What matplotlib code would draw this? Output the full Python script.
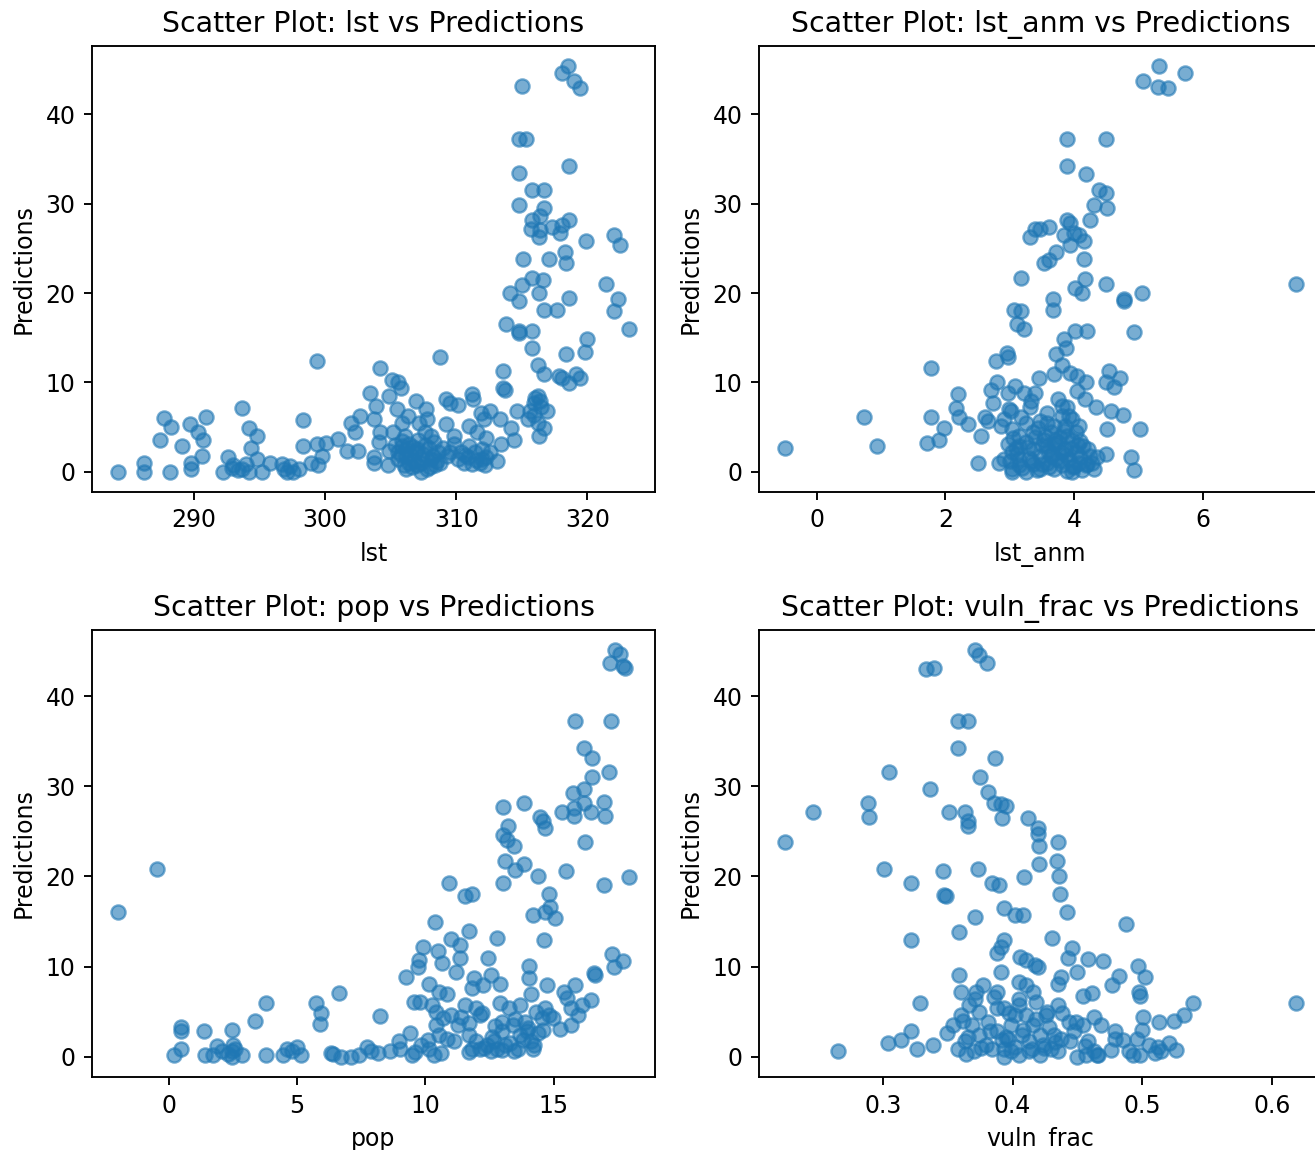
import matplotlib
matplotlib.use("Agg")
import matplotlib.pyplot as plt

# lst vs predictions
lst_x = [284.2, 286.2, 286.2, 288.2, 287.7, 288.3, 287.4, 289.1, 289.7, 290.3, 290.7, 290.9, 290.6, 289.8, 289.8,
         292.2, 292.6, 293.0, 293.7, 294.2, 294.8, 294.4, 294.8, 293.7, 294.2, 295.2, 295.8, 296.7, 297.1, 297.6,
         298.0, 298.3, 298.3, 298.9, 299.5, 299.8, 299.4, 300.1, 299.4, 301.0, 301.7, 302.5, 302.0, 302.7, 302.3,
         303.4, 303.9, 304.2, 303.7, 304.2, 304.1, 303.7, 303.7, 304.8, 304.9, 305.1, 305.6, 305.8, 305.5, 305.2,
         304.9, 305.9, 306.3, 305.9, 306.2, 306.4, 306.9, 307.2, 307.7, 307.8, 307.6, 308.1, 308.3, 307.0, 307.4,
         307.3, 307.8, 308.4, 308.8, 308.8, 309.2, 309.5, 310.1, 309.2, 309.8, 309.8, 309.5, 310.1, 310.6, 311.0,
         311.2, 311.3, 311.9, 311.0, 311.6, 312.1, 312.6, 312.3, 312.0, 311.2, 312.0, 313.1, 313.3, 313.4, 313.6,
         313.6, 313.7, 313.8, 314.1, 314.2, 314.4, 314.6, 314.8, 314.8, 314.8, 314.8, 314.8, 315.0, 314.8, 315.3,
         315.1, 315.0, 315.8, 316.7, 316.7, 315.8, 316.4, 315.7, 316.4, 316.3, 317.3, 315.8, 316.6, 316.3, 317.1,
         316.7, 317.7, 315.8, 315.8, 316.2, 316.7, 316.2, 315.9, 316.4, 316.9, 315.6, 315.5, 316.2, 316.7, 316.3,
         318.5, 318.1, 319.0, 319.4, 318.6, 318.6, 318.1, 317.9, 318.3, 318.4, 318.6, 319.9, 322.0, 322.5, 321.4,
         322.3, 322.0, 323.2, 318.4, 320.0, 319.8, 317.8, 318.6, 319.1, 319.4, 318.1,
         305.6, 306.2, 306.4, 305.6, 306.8, 306.2, 307.0, 308.1, 308.6, 310.4, 310.9, 311.4, 312.6, 312.3, 311.8,
         305.3, 305.8, 306.0, 306.5, 306.7, 307.1, 307.5, 307.9, 308.2, 308.5, 306.1, 306.6, 307.3, 305.9, 306.9,
         307.6, 308.0, 309.0, 309.3, 310.7, 311.5, 312.2, 292.9, 293.4, 296.9, 297.3, 294.0, 316.0, 316.5, 315.9]
lst_y = [0.0, 1.0, 0.0, 0.0, 6.0, 5.0, 3.5, 2.9, 5.3, 4.4, 3.5, 6.1, 1.8, 1.0, 0.3,
         0.0, 1.6, 0.7, 7.1, 4.9, 4.0, 2.7, 1.4, 0.3, 0.0, 0.0, 1.0, 0.9, 0.0, 0.0,
         0.3, 5.8, 2.9, 1.0, 0.7, 1.8, 3.1, 3.2, 12.4, 3.7, 2.3, 2.3, 5.5, 6.2, 4.4,
         8.8, 7.4, 11.6, 5.9, 4.4, 3.3, 1.6, 1.0, 0.7, 8.5, 10.3, 10.0, 9.4, 7.0, 4.4,
         2.3, 5.5, 6.2, 2.9, 1.8, 1.0, 7.9, 5.5, 7.0, 5.9, 4.4, 4.0, 3.3, 2.5, 1.4,
         0.0, 0.3, 0.7, 1.0, 12.8, 8.1, 7.7, 7.5, 5.3, 4.0, 3.1, 2.2, 1.4, 1.0, 2.9,
         8.7, 8.1, 6.6, 5.1, 4.4, 5.9, 6.8, 3.8, 2.5, 0.9, 1.4, 1.2, 5.9, 3.1, 11.3,
         9.4, 9.2, 16.5, 20.0, 4.9, 3.6, 6.8, 19.1, 15.7, 15.5, 29.9, 33.4, 43.2, 37.3, 37.3,
         23.8, 20.9, 31.5, 31.6, 29.5, 28.2, 28.6, 27.2, 27.1, 26.3, 27.4, 21.7, 21.5, 20.0, 23.8,
         18.1, 18.1, 15.7, 13.8, 12.0, 10.9, 8.5, 7.7, 7.9, 6.8, 6.8, 5.9, 5.5, 4.9, 4.0,
         45.4, 44.7, 43.7, 43.0, 34.2, 28.2, 27.6, 26.7, 24.6, 23.4, 19.4, 25.8, 26.5, 25.4, 21.0,
         19.3, 18.0, 16.0, 13.2, 14.9, 13.4, 10.7, 9.9, 10.9, 10.5, 10.5,
         2.2, 2.5, 3.1, 1.4, 1.2, 0.3, 0.7, 1.4, 2.2, 2.2, 1.6, 2.2, 2.2, 1.6, 1.0,
         3.0, 1.9, 0.8, 2.0, 2.8, 3.6, 2.0, 2.6, 1.8, 1.2, 4.0, 0.5, 1.0, 3.4, 2.2,
         3.0, 0.5, 2.6, 1.8, 1.9, 1.3, 0.8, 0.4, 0.2, 0.3, 0.6, 0.9, 8.2, 7.2, 6.3]

# lst_anm vs predictions
anm_x = [-0.5, 0.73, 0.94, 1.77, 1.77, 1.71, 1.9, 1.98, 2.19, 2.17, 2.21, 2.35, 2.51, 2.56, 2.61,
         2.67, 2.74, 2.71, 2.81, 2.79, 2.96, 2.98, 2.86, 2.83, 3.03, 3.08, 3.17, 3.07, 3.18, 3.11,
         3.23, 3.32, 3.39, 3.47, 3.61, 3.53, 3.61, 3.72, 3.68, 3.68, 3.89, 4.5, 3.9, 4.19, 4.39,
         4.5, 4.31, 4.51, 3.9, 3.94, 4.25, 3.85, 4.0, 4.08, 3.94, 4.15, 4.15, 4.17, 4.02, 4.13,
         4.5, 4.78, 4.78, 5.06, 4.94, 5.32, 5.72, 5.07, 5.31, 5.46, 7.46, 4.02, 4.21, 3.85, 3.87,
         3.72, 3.81, 3.69, 3.94, 4.05, 4.19, 4.05, 4.17, 4.35, 4.54, 4.71, 4.5, 4.63, 4.57, 4.76,
         4.52, 5.02, 4.89, 4.94, 4.5, 4.36, 3.46, 3.39, 3.33, 3.31, 3.22, 2.97, 2.99, 2.98, 3.75,
         3.81, 3.89, 3.97, 4.08, 3.47, 3.58,
         2.92, 3.03, 3.14, 3.25, 3.36, 3.47, 3.58, 3.69, 3.81, 3.92, 4.03, 4.14, 4.25, 4.31, 4.19,
         3.97, 3.25, 3.14, 2.92, 3.03, 3.36, 3.53, 3.64, 3.75, 3.86, 3.97, 4.03, 3.25, 3.69, 3.86,
         3.47, 3.36, 3.64, 3.81, 4.08, 3.03, 3.14, 3.58, 3.92, 3.81,
         3.0, 3.1, 3.2, 3.3, 3.4, 3.5, 3.6, 3.7, 3.8, 3.9, 4.0, 4.1, 4.2, 3.05, 3.15,
         3.28, 3.42, 3.55, 3.66, 3.78, 3.88, 3.98, 4.12, 4.22, 3.35, 3.5, 3.62, 3.72, 3.95, 4.1,
         3.02, 3.18, 3.44, 3.58, 3.84, 4.06, 4.28, 3.12, 3.7, 3.9]
anm_y = [2.7, 6.1, 2.9, 11.6, 6.1, 3.2, 3.5, 4.9, 8.7, 7.1, 6.1, 5.3, 1.0, 4.0, 6.1,
         5.7, 7.7, 9.2, 10.1, 12.4, 13.3, 12.8, 5.1, 1.0, 0.0, 9.6, 21.7, 18.1, 18.0, 16.5,
         16.0, 26.3, 27.2, 27.2, 27.4, 23.4, 23.7, 24.6, 19.3, 18.1, 37.3, 37.3, 34.2, 33.3, 31.5,
         31.2, 29.9, 29.5, 28.2, 27.8, 28.2, 26.5, 26.7, 26.5, 25.4, 25.8, 23.8, 21.6, 20.6, 20.0,
         21.0, 19.3, 19.1, 20.0, 15.6, 45.4, 44.7, 43.7, 43.1, 43.0, 21.0, 15.7, 15.8, 14.9, 13.8,
         13.2, 12.0, 10.9, 11.1, 10.7, 10.0, 9.0, 8.1, 7.2, 11.3, 10.5, 10.1, 9.5, 6.8, 6.3,
         4.8, 4.8, 1.6, 0.2, 2.0, 1.6, 10.5, 8.8, 7.9, 7.2, 8.8, 8.8, 7.0, 3.1, 8.1,
         7.4, 7.2, 5.9, 5.1, 5.7, 6.6,
         5.9, 4.8, 4.0, 3.3, 2.5, 1.8, 1.0, 0.3, 0.7, 1.4, 2.2, 2.9, 1.8, 0.3, 0.7,
         0.0, 0.0, 0.7, 1.4, 2.2, 4.4, 3.6, 4.4, 3.3, 2.5, 3.6, 4.4, 5.5, 5.1, 5.1,
         0.3, 0.9, 1.8, 2.2, 1.0, 0.3, 2.9, 2.9, 6.2, 6.2,
         1.2, 2.6, 0.4, 1.5, 3.9, 0.9, 2.3, 3.1, 1.2, 0.1, 0.6, 1.7, 0.9, 3.8, 1.4,
         2.8, 0.2, 4.0, 2.0, 3.9, 1.9, 0.5, 0.2, 2.5, 1.2, 3.0, 0.5, 1.4, 2.7, 3.4,
         6.8, 6.1, 4.9, 5.5, 4.6, 3.0, 1.0, 2.0, 3.6, 4.0]

# pop vs predictions
pop_x = [-1.99, -0.47, 0.2, 0.48, 0.48, 0.46, 1.38, 1.42, 1.74, 1.88, 2.09, 2.45, 2.52, 2.48, 2.48,
         2.87, 3.37, 3.78, 3.8, 4.47, 4.79, 4.98, 5.15, 5.72, 5.93, 5.89, 6.64, 6.32, 6.71, 7.11,
         7.4, 7.71, 8.14, 8.24, 8.63, 8.99, 9.25, 9.42, 9.49, 9.56, 9.81, 9.7, 9.77, 9.91, 9.84,
         10.13, 10.34, 10.13, 10.37, 10.48, 10.65, 10.91, 10.98, 11.33, 11.33, 11.19, 11.69, 11.55, 11.83, 11.9,
         11.83, 12.26, 12.45, 12.8, 12.55, 12.9, 13.04, 13.83, 13.23, 13.04, 13.18, 13.47, 13.11, 13.51, 13.83,
         13.04, 14.37, 14.47, 14.57, 14.66, 14.8, 14.18, 14.68, 14.85, 15.04, 14.61, 14.04, 14.04, 14.11, 14.75,
         15.82, 17.25, 16.17, 16.5, 17.17, 16.5, 16.17, 15.75, 16.17, 16.45, 16.96, 16.99, 15.31, 15.81, 15.81,
         16.21, 15.49, 16.96, 17.95, 17.38, 17.6, 17.2, 17.78, 17.69, 17.27, 17.34, 17.71, 16.56, 16.6, 15.39,
         15.82, 15.53, 16.1, 16.45, 15.25, 15.67, 15.96, 15.67,
         10.27, 10.55, 10.84, 10.41, 10.7, 10.98, 10.41, 10.55, 10.84, 11.12, 11.55, 11.98, 12.12, 11.69, 11.98,
         12.12, 12.4, 12.55, 12.69, 12.9, 12.97, 13.11, 13.25, 13.4, 13.47, 13.68, 13.9, 13.97, 14.11, 14.25,
         14.32, 14.54, 14.68, 14.82, 14.97, 13.68, 11.69, 11.26, 11.83, 12.97,
         12.3, 12.6, 12.8, 13.0, 13.3, 13.6, 13.8, 14.2, 14.4, 14.0, 12.2, 12.7, 13.5, 14.6, 11.4,
         11.7, 10.6, 2.3, 2.6, 4.6, 6.4, 7.9, 9.0, 9.6, 10.1]
pop_y = [16.1, 20.8, 0.2, 0.9, 3.3, 2.8, 2.9, 0.2, 0.2, 1.2, 0.6, 3.0, 1.3, 0.6, 0.0,
         0.2, 4.0, 6.0, 0.2, 0.2, 0.6, 1.1, 0.2, 6.0, 4.9, 3.6, 7.1, 0.4, 0.0, 0.0,
         0.2, 1.1, 0.4, 4.5, 0.6, 1.7, 8.8, 2.6, 0.2, 6.1, 6.1, 10.0, 10.7, 12.2, 1.3,
         0.9, 0.2, 8.1, 14.9, 11.7, 10.4, 19.3, 13.1, 12.4, 10.9, 9.4, 13.9, 17.8, 18.1, 8.7,
         7.6, 8.0, 11.0, 13.2, 9.1, 8.1, 27.7, 28.1, 25.6, 24.6, 24.1, 23.4, 21.7, 20.7, 21.4,
         19.3, 20.1, 26.6, 26.1, 25.4, 18.0, 15.7, 16.1, 16.6, 15.4, 12.9, 10.1, 8.7, 6.9, 8.0,
         37.2, 37.2, 34.3, 33.1, 31.6, 31.0, 29.7, 29.3, 28.1, 27.2, 28.3, 26.7, 27.1, 26.7, 27.6,
         23.8, 20.6, 19.1, 19.9, 45.1, 44.7, 43.7, 43.1, 43.4, 11.4, 10.0, 10.6, 9.3, 9.1, 7.2,
         8.0, 6.5, 5.7, 6.3, 3.1, 3.5, 4.6, 5.4,
         5.7, 7.2, 6.9, 5.0, 4.3, 4.6, 3.5, 2.4, 2.0, 1.7, 5.7, 5.4, 4.6, 3.7, 1.7,
         0.9, 1.3, 0.6, 1.7, 5.9, 3.9, 1.3, 5.4, 3.5, 0.6, 5.7, 3.9, 2.8, 1.7, 1.3,
         5.0, 4.3, 5.4, 4.6, 4.3, 2.4, 2.4, 3.5, 0.9, 0.7,
         1.0, 2.2, 0.8, 2.8, 1.5, 0.9, 1.9, 0.8, 2.6, 3.2, 4.8, 3.4, 4.2, 3.0, 4.4,
         0.5, 0.4, 0.3, 0.9, 0.8, 0.3, 0.6, 0.9, 0.5, 1.8]

# vuln_frac vs predictions
vuln_x = [0.2243, 0.2463, 0.2656, 0.2884, 0.289, 0.305, 0.3006, 0.322, 0.322, 0.3289, 0.322, 0.3262, 0.3041, 0.3143, 0.3385,
          0.333, 0.3391, 0.3366, 0.3462, 0.3468, 0.349, 0.3509, 0.3578, 0.3655, 0.3578, 0.3633, 0.3655, 0.3655, 0.3586, 0.3586,
          0.36, 0.371, 0.3743, 0.3804, 0.3749, 0.3812, 0.3867, 0.3853, 0.3914, 0.395, 0.3917, 0.3735, 0.371, 0.3839, 0.3895,
          0.393, 0.4018, 0.4079, 0.4087, 0.4115, 0.4197, 0.4197, 0.4206, 0.4206, 0.4349, 0.4343, 0.4354, 0.4362, 0.4418, 0.43,
          0.4877, 0.3908, 0.3936, 0.3881, 0.406, 0.4101, 0.417, 0.4197, 0.4426, 0.4459, 0.4583, 0.4693, 0.4495, 0.4376, 0.4349,
          0.4968, 0.5023, 0.4822, 0.4767, 0.461, 0.4541, 0.4976, 0.4982, 0.5389, 0.5318, 0.5243, 0.5125, 0.5004, 0.4996, 0.6187,
          0.5257, 0.5202, 0.5119, 0.5051, 0.4982, 0.4927, 0.4789, 0.4762, 0.4679, 0.4624, 0.4652, 0.4569, 0.4583, 0.45, 0.4486,
          0.4431, 0.4445, 0.4349, 0.4266, 0.4321, 0.4238, 0.421, 0.4129, 0.4046, 0.3991, 0.3936, 0.3881, 0.3826, 0.3936, 0.3881,
          0.3908, 0.3881, 0.3716, 0.3771, 0.3661, 0.3743, 0.3688, 0.3606, 0.3537, 0.3495, 0.3578, 0.3633, 0.3702, 0.4046, 0.4101,
          0.4156, 0.4184, 0.4046, 0.4101, 0.3991, 0.4018, 0.4156, 0.421, 0.4293, 0.4349, 0.4073, 0.3963, 0.3798, 0.3936, 0.4541,
          0.4624, 0.4789, 0.496, 0.5147,
          0.362, 0.366, 0.371, 0.376, 0.381, 0.386, 0.392, 0.397, 0.402, 0.408, 0.413, 0.418, 0.424, 0.428, 0.433,
          0.438, 0.364, 0.374, 0.384, 0.395, 0.405, 0.415, 0.426, 0.437, 0.447, 0.456, 0.466, 0.485, 0.49, 0.51]
vuln_y = [23.8, 27.2, 0.6, 28.2, 26.6, 31.6, 20.8, 19.3, 13.0, 5.9, 2.8, 0.9, 1.5, 1.9, 1.3,
          43.0, 43.1, 29.7, 20.6, 17.9, 17.8, 27.2, 37.2, 37.2, 34.3, 27.1, 26.1, 25.6, 13.8, 9.1,
          7.2, 45.1, 44.6, 43.7, 31.0, 29.4, 33.1, 28.2, 28.0, 27.8, 26.5, 20.8, 15.5, 19.3, 19.1,
          16.5, 15.7, 15.7, 19.9, 26.5, 25.4, 24.7, 23.4, 21.4, 23.8, 21.7, 20.0, 18.1, 16.0, 13.2,
          14.7, 12.2, 13.0, 11.5, 11.1, 10.7, 10.2, 10.0, 10.9, 12.1, 10.8, 10.6, 9.4, 8.8, 8.1,
          10.1, 8.8, 9.0, 8.0, 7.1, 6.7, 7.2, 6.7, 6.0, 4.6, 4.0, 3.9, 4.4, 3.0, 6.0,
          0.7, 1.5, 1.1, 1.3, 0.2, 0.2, 2.8, 0.7, 3.5, 4.4, 0.2, 0.2, 1.7, 0.0, 3.9,
          3.9, 1.7, 5.7, 5.0, 2.4, 1.3, 0.2, 1.7, 0.2, 0.6, 0.9, 2.8, 2.8, 5.4, 5.4,
          9.4, 7.2, 7.2, 8.0, 5.7, 5.0, 3.5, 4.6, 3.5, 2.6, 0.9, 1.7, 0.6, 8.3, 8.0,
          7.2, 6.1, 5.7, 4.6, 3.5, 4.6, 3.5, 2.4, 0.9, 0.6, 2.4, 2.0, 1.3, 0.0, 3.5,
          0.6, 2.0, 2.0, 0.6,
          4.0, 2.2, 6.4, 1.0, 3.8, 6.6, 1.8, 4.8, 1.1, 3.0, 0.6, 4.2, 1.0, 3.3, 1.6,
          4.9, 0.3, 2.4, 0.9, 2.2, 6.4, 0.9, 4.6, 2.0, 2.8, 1.2, 0.2, 1.8, 0.6, 0.4]

panels = [
    ("lst", lst_x, lst_y, 10),
    ("lst_anm", anm_x, anm_y, 2),
    ("pop", pop_x, pop_y, 5),
    ("vuln_frac", vuln_x, vuln_y, 0.1),
]

# scaled-up notebook style figure
DPI = 170
fig = plt.figure(figsize=(1315 / DPI, 1150 / DPI), dpi=DPI)
positions = [
    [0.070, 0.5722, 0.4281, 0.3878],
    [0.5772, 0.5722, 0.4281, 0.3878],
    [0.070, 0.0635, 0.4281, 0.3887],
    [0.5772, 0.0635, 0.4281, 0.3887],
]

for (name, xs, ys, step), pos in zip(panels, positions):
    ax = fig.add_axes(pos)
    ax.scatter(xs, ys, alpha=0.6)
    ax.set_title(f"Scatter Plot: {name} vs Predictions")
    ax.set_xlabel(name)
    ax.set_ylabel("Predictions")
    ax.xaxis.set_major_locator(plt.MultipleLocator(step))
    ax.yaxis.set_major_locator(plt.MultipleLocator(10))

fig.savefig("out.png", dpi=DPI)
